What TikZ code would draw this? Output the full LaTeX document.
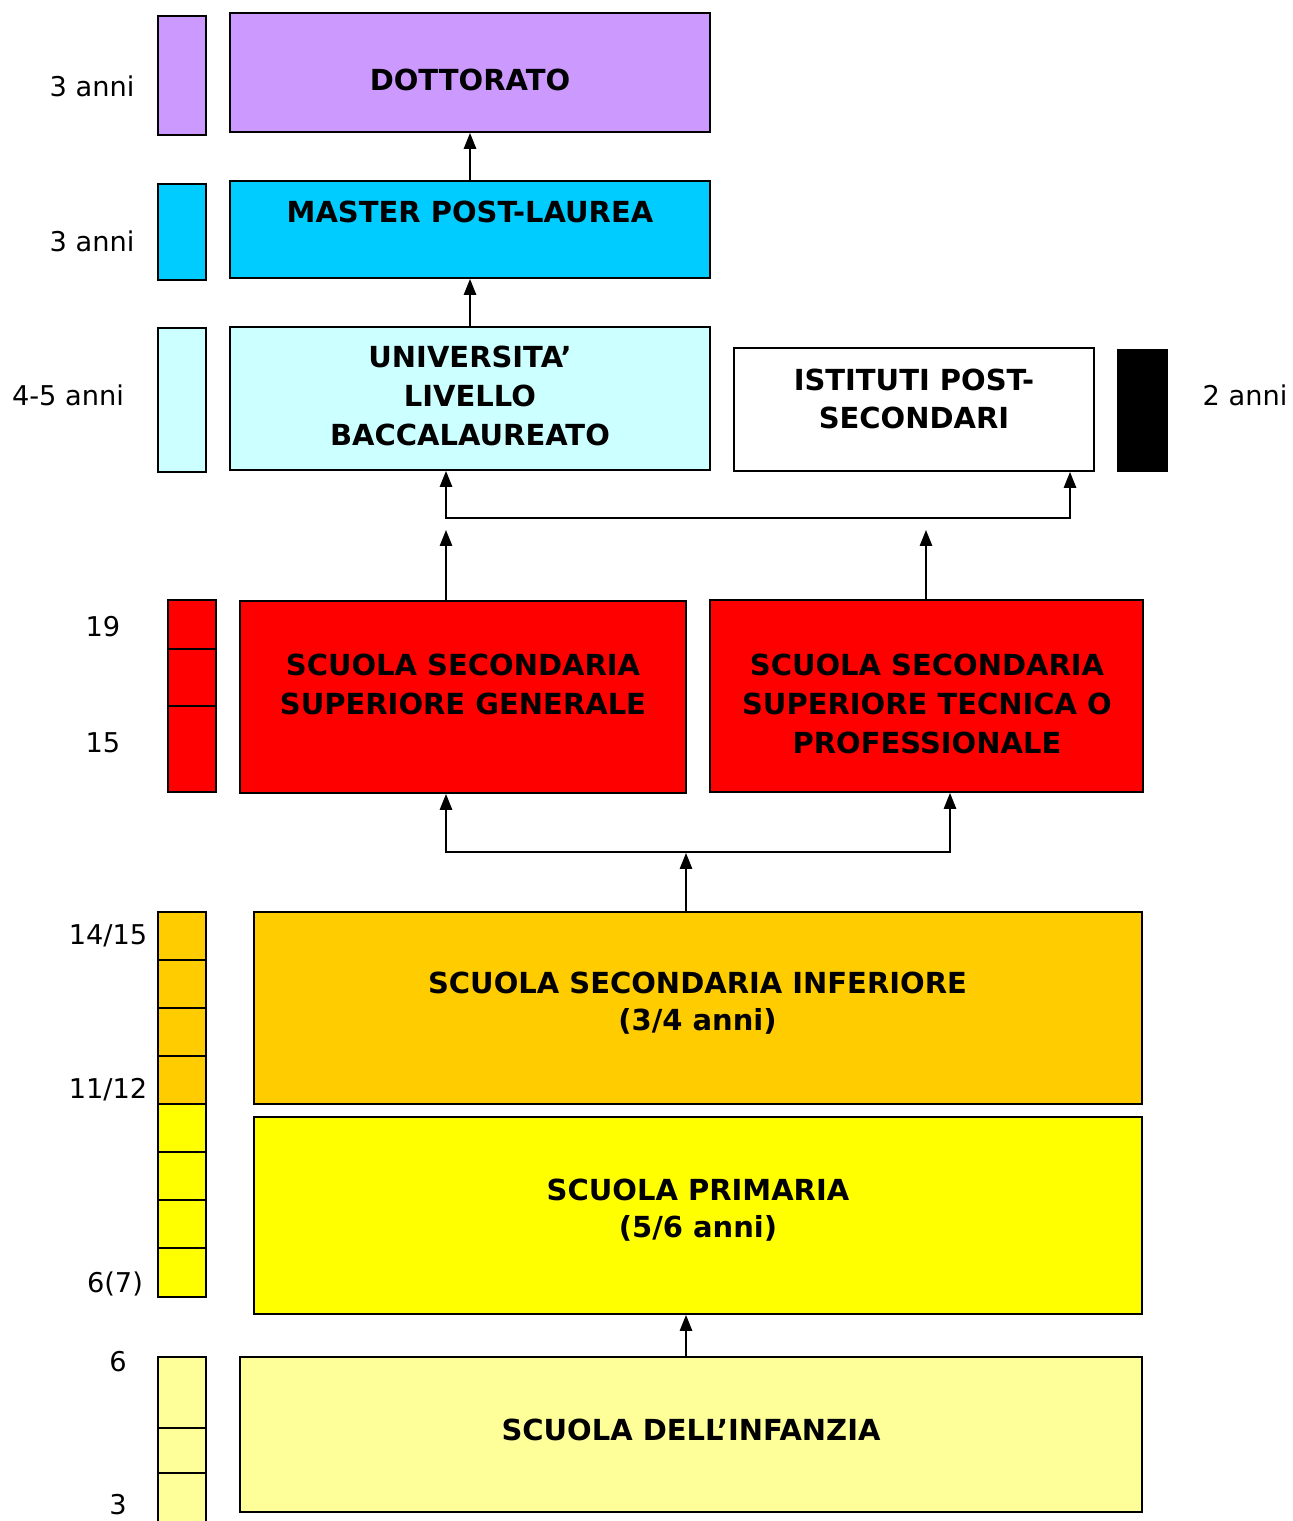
\documentclass[tikz,border=0pt]{standalone}
\usepackage{fontspec}
\setmainfont{DejaVu Sans}
\usetikzlibrary{arrows.meta,positioning}
\definecolor{lilla}{HTML}{CC99FF}
\definecolor{ciano}{HTML}{00CCFF}
\definecolor{celeste}{HTML}{CCFFFF}
\definecolor{rosso}{HTML}{FF0000}
\definecolor{arancio}{HTML}{FFCC00}
\definecolor{giallo}{HTML}{FFFF00}
\definecolor{giallino}{HTML}{FFFF99}
\begin{document}
\begin{tikzpicture}[x=0.02cm,y=-0.02cm,
    level/.style={draw,line width=1.1pt,inner sep=0pt},
    leveltext/.style={align=center,inner sep=0pt,font=\bfseries\fontsize{16.5}{22}\selectfont},
    bar/.style={draw,line width=1.1pt,minimum width=0.96cm,inner sep=0pt},
    age/.style={font=\fontsize{15.5}{18}\selectfont},
    arr/.style={-{Triangle[width=7pt,length=9pt]},line width=0.9pt},
    arrtwo/.style={{Triangle[width=7pt,length=9pt]}-{Triangle[width=7pt,length=9pt]},line width=0.9pt}
  ]
    \clip (0,0) rectangle (1293,1521);
    \useasboundingbox (0,0) rectangle (1293,1521);

    % Top levels
    \node[level,fill=lilla,minimum width=9.6cm,minimum height=2.38cm] (dott) at (470,72.5) {};
    \node[leveltext] (dotttxt) at (470,80) {DOTTORATO};
    \node[level,fill=ciano,minimum width=9.6cm,minimum height=1.94cm] (master) at (470,229.5) {};
    \node[leveltext] (mastertxt) at (470,212) {MASTER POST-LAUREA};
    \node[level,fill=celeste,minimum width=9.6cm,minimum height=2.86cm] (univ) at (470,398.5) {};
    \node[leveltext] (univtxt) at (470,396) {UNIVERSITA’\\LIVELLO\\BACCALAUREATO};
    \node[level,fill=white,minimum width=7.2cm,minimum height=2.46cm] (ist) at (914,409.5) {};
    \node[leveltext] (isttxt) at (914,399) {ISTITUTI POST-\\SECONDARI};

    % Side bars - years
    \node[bar,fill=lilla,minimum height=2.38cm] (bdott) at (182,75.5) {};
    \node[bar,fill=ciano,minimum height=1.92cm] (bmaster) at (182,232) {};
    \node[bar,fill=celeste,minimum height=2.88cm] (buniv) at (182,400) {};
    \node[bar,fill=black,minimum width=0.98cm,minimum height=2.42cm] (bist) at (1142.5,410.5) {};
    \node[age] (adott) at (92,86) {3 anni};
    \node[age] (amaster) at (92,241) {3 anni};
    \node[age] (auniv) at (68,395) {4-5 anni};
    \node[age] (aist) at (1245,395) {2 anni};

    % Upper secondary
    \node[level,fill=rosso,minimum width=8.92cm,minimum height=3.84cm] (ssg) at (463,697) {};
    \node[leveltext] (ssgtxt) at (463,684.5) {SCUOLA SECONDARIA\\SUPERIORE GENERALE};
    \node[level,fill=rosso,minimum width=8.66cm,minimum height=3.84cm] (sst) at (926.5,696) {};
    \node[leveltext] (ssttxt) at (927,704) {SCUOLA SECONDARIA\\SUPERIORE TECNICA O\\PROFESSIONALE};
    \foreach \a/\b [count=\i] in {600/649,649/706,706/792}
      \draw[fill=rosso,line width=1.1pt] (168,\a) rectangle (216,\b);
    \node[age] (a19) at (103,627) {19};
    \node[age] (a15) at (103,743) {15};

    % Lower levels
    \node[level,fill=arancio,minimum width=17.76cm,minimum height=3.84cm] (ssi) at (698,1008) {};
    \node[leveltext,font=\bfseries\fontsize{16.5}{21}\selectfont] (ssitxt) at (697.5,1003) {SCUOLA SECONDARIA INFERIORE\\(3/4 anni)};
    \node[level,fill=giallo,minimum width=17.76cm,minimum height=3.94cm] (prim) at (698,1215.5) {};
    \node[leveltext,font=\bfseries\fontsize{16.5}{21}\selectfont] (primtxt) at (698,1210) {SCUOLA PRIMARIA\\(5/6 anni)};
    \node[level,fill=giallino,minimum width=18.04cm,minimum height=3.1cm] (inf) at (691,1434.5) {};
    \node[leveltext] (inftxt) at (691,1430) {SCUOLA DELL’INFANZIA};
    \foreach \y [count=\i] in {912,960,1008,1056}
      \draw[fill=arancio,line width=1.1pt] (158,\y) rectangle (206,\y+48.1);
    \foreach \y [count=\i] in {1104,1152,1200,1248}
      \draw[fill=giallo,line width=1.1pt] (158,\y) rectangle (206,\y+48.6);
    \foreach \a/\b in {1357/1428,1428/1473,1473/1540}
      \draw[fill=giallino,line width=1.1pt] (158,\a) rectangle (206,\b);
    \node[age] (a1415) at (108,936) {14/15};
    \node[age] (a1112) at (108,1090) {11/12};
    \node[age] (a67) at (115,1284) {6(7)};
    \node[age] (a6) at (118,1362) {6};
    \node[age] (a3) at (118,1505) {3};

    % Arrows
    \coordinate (j1) at (446,518);
    \coordinate (j2) at (1070,518);
    \coordinate (t1) at (446,530);
    \coordinate (t2) at (926,530);
    \coordinate (k1) at (446,852);
    \coordinate (k2) at (950,852);
    \coordinate (k0) at (686,853);
    \draw[arr] (master) -- (dott);
    \draw[arr] (univ) -- (master);
    \draw[arrtwo] (j1 |- univ.south) -- (j1) -- (j2) -- (j2 |- ist.south);
    \draw[arr] (ssg.north -| t1) -- (t1);
    \draw[arr] (sst.north -| t2) -- (t2);
    \draw[arrtwo] (k1 |- ssg.south) -- (k1) -- (k2) -- (k2 |- sst.south);
    \draw[arr] (ssi.north -| k0) -- (k0);
    \draw[arr] (inf.north -| k0) -- (prim.south -| k0);
  \end{tikzpicture}
\end{document}
